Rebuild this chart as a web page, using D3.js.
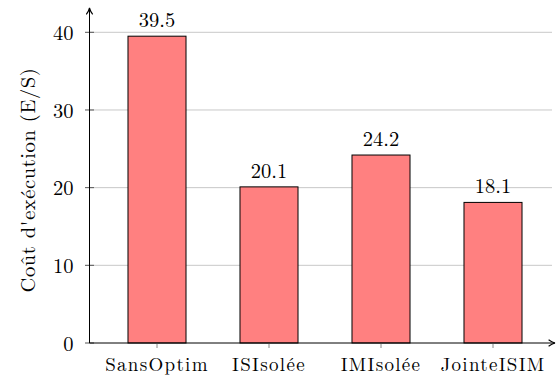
<!DOCTYPE html>
<html>
<head>
<meta charset="utf-8">
<script src="https://cdn.jsdelivr.net/npm/d3@7"></script>
<style>
  html, body { margin: 0; padding: 0; background: #fff; }
</style>
</head>
<body>
<svg id="chart" width="558" height="381"></svg>
<script>
// Execution cost per optimisation strategy
const categories = ["SansOptim", "ISIsolée", "IMIsolée", "JointeISIM"];
const costs = [39.5, 20.1, 24.2, 18.1];
const yTicks = [0, 10, 20, 30, 40];
const yLabel = "Coût d'exécution (E/S)";

const FONT = "'Latin Modern Roman', 'Liberation Serif', serif";
const svg = d3.select("#chart");
const x0 = 89.5, x1 = 555, y0 = 343, yTop = 8;

const y = d3.scaleLinear().domain([0, 40]).range([343, 32.3]);
const x = d3.scaleBand().domain(categories).range([101, 549]).paddingInner(0.482).paddingOuter(0.241);

// horizontal grid
svg.append("g").selectAll("line").data(yTicks.filter(d => d > 0)).join("line")
  .attr("x1", x0).attr("x2", 552)
  .attr("y1", d => y(d)).attr("y2", d => y(d))
  .attr("stroke", "#c8c8c8").attr("stroke-width", 1);

// bars
svg.append("g").selectAll("rect").data(costs).join("rect")
  .attr("x", (d, i) => x(categories[i]))
  .attr("y", d => y(d))
  .attr("width", x.bandwidth())
  .attr("height", d => y(0) - y(d))
  .attr("fill", "#ff8080").attr("stroke", "#000").attr("stroke-width", 1);

// value labels
svg.append("g").selectAll("text").data(costs).join("text")
  .attr("x", (d, i) => x(categories[i]) + x.bandwidth() / 2)
  .attr("y", d => y(d) - 9)
  .attr("text-anchor", "middle")
  .attr("font-family", FONT)
  .attr("font-size", 20.5)
  .attr("fill", "#000")
  .text(d => d.toFixed(1));

// y axis ticks and labels
const yAxis = d3.axisLeft(y).tickValues(yTicks).tickSize(0).tickPadding(16);
const gy = svg.append("g").attr("transform", `translate(${x0},0)`).call(yAxis);
gy.attr("font-family", FONT);
gy.select(".domain").remove();
gy.selectAll("text").attr("font-size", 20.5).attr("dy", "0.35em");
svg.append("g").selectAll("line").data(yTicks).join("line")
  .attr("x1", x0 - 4.5).attr("x2", x0 + 4.5)
  .attr("y1", d => y(d)).attr("y2", d => y(d))
  .attr("stroke", "#555").attr("stroke-width", 1);

// x axis ticks and labels
const xAxis = d3.axisBottom(x).tickSize(5).tickPadding(10);
const gx = svg.append("g").attr("transform", `translate(0,${y0})`).call(xAxis);
gx.attr("font-family", FONT);
gx.select(".domain").remove();
gx.selectAll("line").attr("stroke", "#888");
gx.selectAll("text").attr("font-size", 19).attr("letter-spacing", "1.3px");

// axis lines with arrows
svg.append("defs").append("marker")
  .attr("id", "arr").attr("viewBox", "0 0 10 10").attr("refX", 9).attr("refY", 5)
  .attr("markerWidth", 8).attr("markerHeight", 8).attr("orient", "auto")
  .append("path").attr("d", "M1,1 Q5,4 9,5 Q5,6 1,9").attr("fill", "none").attr("stroke", "#000").attr("stroke-width", 1.4);
svg.append("line").attr("x1", x0).attr("x2", x0).attr("y1", y0).attr("y2", yTop)
  .attr("stroke", "#000").attr("stroke-width", 1).attr("marker-end", "url(#arr)");
svg.append("line").attr("x1", x0).attr("x2", x1).attr("y1", y0).attr("y2", y0)
  .attr("stroke", "#000").attr("stroke-width", 1).attr("marker-end", "url(#arr)");

// y axis title
svg.append("text")
  .attr("transform", `translate(35,180) rotate(-90)`)
  .attr("text-anchor", "middle")
  .attr("font-family", FONT)
  .attr("font-size", 20.5)
  .attr("letter-spacing", "0.6px")
  .attr("fill", "#000")
  .text(yLabel);
</script>
</body>
</html>
